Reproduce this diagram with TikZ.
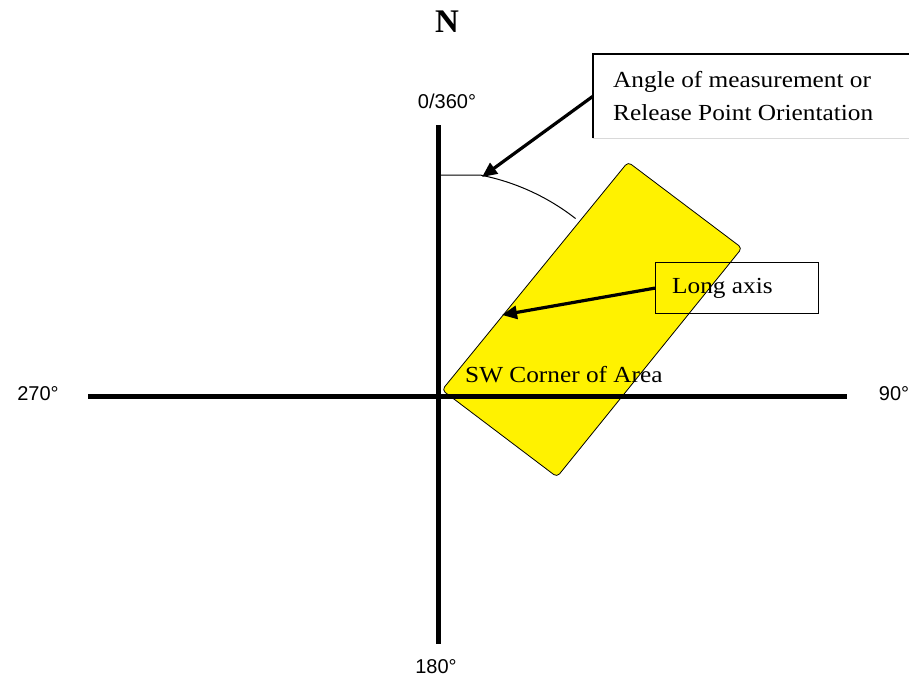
\documentclass[tikz,border=0pt]{standalone}
\usepackage{fontspec}
\setmainfont{Liberation Serif}
\newfontfamily\lblserif[FakeStretch=1.1]{Liberation Serif}
\newfontfamily\lblsans{Liberation Sans}
\usetikzlibrary{arrows.meta}
\begin{document}
\begin{tikzpicture}[x=1pt,y=-1pt,
  axisline/.style={line width=5pt},
  pointer/.style={line width=3.2pt, -{Triangle[length=15pt,width=13pt]}},
  deg/.style={font=\lblsans\fontsize{20}{24}\selectfont, inner sep=0pt},
  callout/.style={font=\lblserif\fontsize{23}{33}\selectfont, inner sep=0pt, anchor=base west},
  boxframe/.style={line width=1.2pt}
]
\useasboundingbox (0,0) rectangle (909,678);
% axis ends
\coordinate (O) at (438,396);
\coordinate (ntop) at (438,125);
\coordinate (sbot) at (438,644);
\coordinate (wend) at (88,396);
\coordinate (eend) at (847,396);
% arc of measurement
\coordinate (arcstart) at (480,175);
\draw[line width=1pt] (438,175) -- (arcstart) arc[start angle=-79, end angle=-52, radius=225];
% area rectangle
\coordinate (swc) at (442,390);
\coordinate (nwc) at (628,162);
\coordinate (nec) at (742,248);
\coordinate (sec) at (557,477);
\draw[fill=yellow, line width=0.8pt, rounded corners=4pt] (swc) -- (nwc) -- (nec) -- (sec) -- cycle;
% axes
\draw[axisline] (wend) -- (eend);
\draw[axisline] (ntop) -- (sbot);
% labels
\node[font=\bfseries\fontsize{33}{36}\selectfont, inner sep=0pt] (north) at (447,22) {N};
\node[deg] (d0) at (447,101) {0/360°};
\node[deg] (d270) at (38,394) {270°};
\node[deg] (d90) at (894,394) {90°};
\node[deg] (d180) at (436,667) {180°};
% angle box
\node[anchor=north west, minimum width=330pt, minimum height=84pt, inner sep=0pt] (anglebox) at (593,54) {};
\draw[boxframe] (anglebox.south west) -- (anglebox.north west) -- (anglebox.north east);
\draw[black!15, line width=0.6pt] (anglebox.south west) -- (anglebox.south east);
\node[callout] (angtxt1) at (613,87) {Angle of measurement or};
\node[callout] (angtxt2) at (613,120) {Release Point Orientation};
\coordinate (angtip) at (482,177);
\draw[pointer] (anglebox.west) -- (angtip);
% long axis box
\node[draw, boxframe, anchor=north west, minimum width=163pt, minimum height=51pt, inner sep=0pt] (longbox) at (655,262) {};
\node[callout] (longtxt) at (672,293) {Long axis};
\coordinate (longtip) at (502,315);
\draw[pointer] (longbox.west) -- (longtip);
% SW corner label
\node[callout] (swtxt) at (465,382) {SW Corner of Area};
\end{tikzpicture}
\end{document}
